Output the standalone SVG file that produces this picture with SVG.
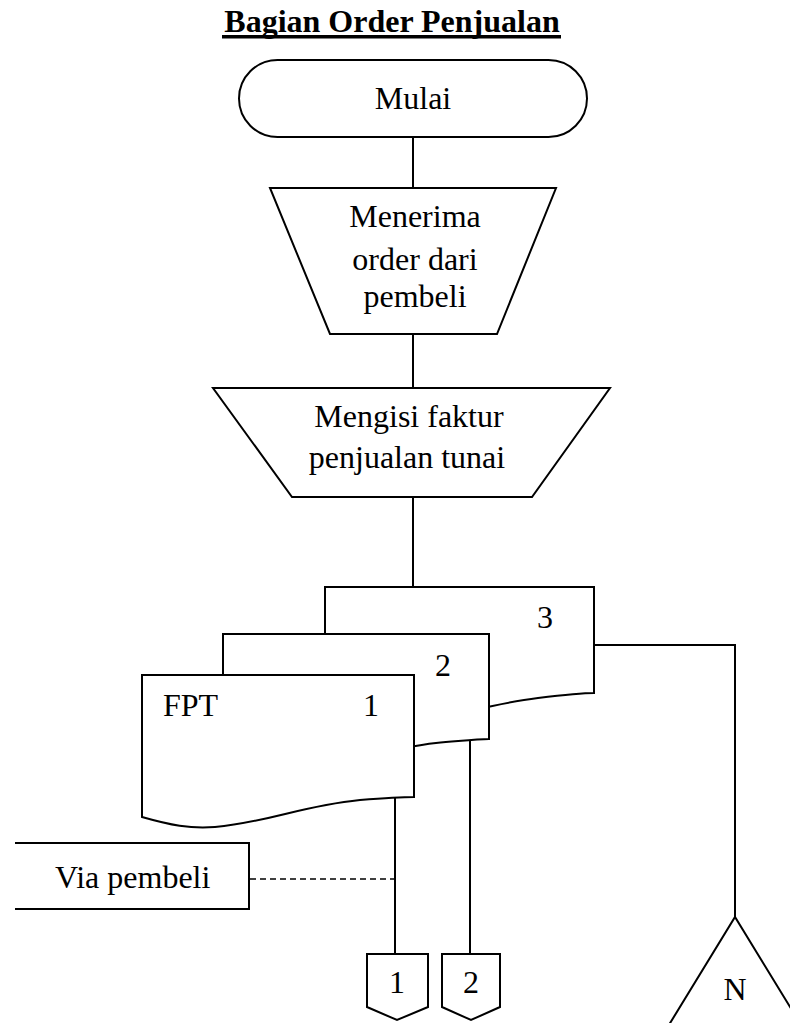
<svg xmlns="http://www.w3.org/2000/svg" width="790" height="1023" viewBox="0 0 790 1023">
  <style>
    .shape { fill: #ffffff; stroke: #000000; stroke-width: 2; }
    .line { fill: none; stroke: #000000; stroke-width: 2; }
    .dash { fill: none; stroke: #000000; stroke-width: 1.6; stroke-dasharray: 6 4; }
    .txt { font-family: "Liberation Serif", "Times New Roman", serif; font-size: 32px; fill: #000000; }
    .mid { text-anchor: middle; }
    .title { font-family: "Liberation Serif", "Times New Roman", serif; font-size: 32px; font-weight: bold; fill: #000000; text-anchor: middle; }
  </style>
  <rect width="790" height="1023" fill="#ffffff"/>

  <!-- heading -->
  <g id="title">
    <text class="title" x="392" y="32">Bagian Order Penjualan</text>
    <rect x="222" y="35" width="339" height="3.5" fill="#000000"/>
  </g>

  <!-- connectors -->
  <g id="connectors">
    <line class="line" x1="413" y1="137" x2="413" y2="188"/>
    <line class="line" x1="413" y1="334" x2="413" y2="388"/>
    <line class="line" x1="413" y1="497" x2="413" y2="587"/>
    <polyline class="line" points="594,645 735,645 735,917"/>
    <line class="line" x1="395" y1="798" x2="395" y2="955"/>
    <line class="line" x1="470" y1="739" x2="470" y2="955"/>
    <line class="dash" x1="250" y1="879" x2="395" y2="879"/>
  </g>

  <g id="start">
    <rect class="shape" x="239" y="60" width="348" height="77" rx="38.5" ry="38.5"/>
    <text class="txt mid" x="413" y="109">Mulai</text>
  </g>

  <g id="receive-order">
    <polygon class="shape" points="270,188 556,188 497,334 330,334"/>
    <text class="txt mid" x="415" y="227">Menerima</text>
    <text class="txt mid" x="415" y="270">order dari</text>
    <text class="txt mid" x="415" y="307">pembeli</text>
  </g>

  <g id="fill-invoice">
    <polygon class="shape" points="213,388 610,388 532,497 292,497"/>
    <text class="txt mid" x="409" y="427">Mengisi faktur</text>
    <text class="txt mid" x="407" y="468">penjualan tunai</text>
  </g>

  <!-- invoice copies, back to front -->
  <g id="doc-3">
    <path class="shape" d="M325,587 L594,587 L594,693 C580,693 563,695 538,698 C483,705 453,718 398,723 C373,725 353,721 325,713 Z"/>
    <text class="txt mid" x="545" y="628">3</text>
  </g>
  <g id="doc-2">
    <path class="shape" d="M223,634 L489,634 L489,739 C476,739 461,741 436,743 C381,749 351,764 296,769 C271,771 251,767 223,759 Z"/>
    <text class="txt mid" x="443" y="676">2</text>
  </g>
  <g id="doc-1">
    <path class="shape" d="M142,675 L414,675 L414,797 C400,797 385,798 360,800 C300,806 270,822 215,827 C190,829 170,825 142,817 Z"/>
    <text class="txt" x="163" y="716">FPT</text>
    <text class="txt mid" x="371" y="716">1</text>
  </g>

  <g id="via-pembeli">
    <polyline class="line" points="15,843 249,843 249,909 15,909"/>
    <text class="txt" x="55" y="888">Via pembeli</text>
  </g>

  <g id="offpage-1">
    <polygon class="shape" points="367,954 428,954 428,1007 397,1020 367,1007"/>
    <text class="txt mid" x="397" y="993">1</text>
  </g>
  <g id="offpage-2">
    <polygon class="shape" points="442,954 500,954 500,1007 471,1020 442,1007"/>
    <text class="txt mid" x="471" y="993">2</text>
  </g>

  <!-- archive triangle, base runs off the page -->
  <g id="archive-n">
    <polyline class="line" points="664,1033 735,917 806,1033"/>
    <text class="txt mid" x="735" y="1000">N</text>
  </g>
</svg>
